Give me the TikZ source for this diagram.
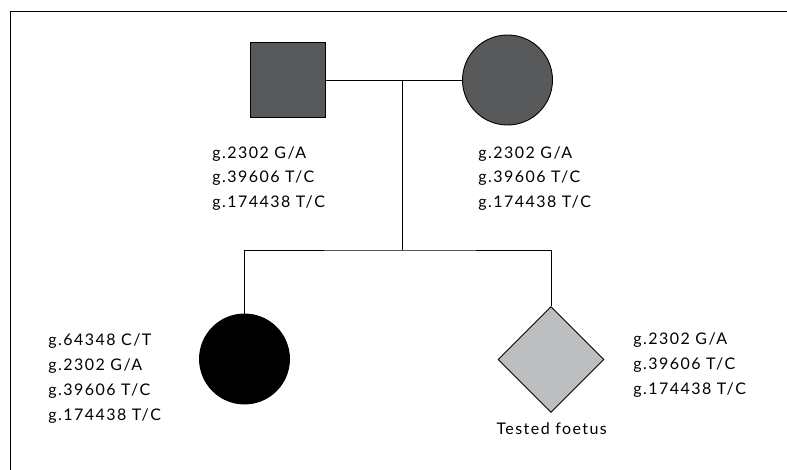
\documentclass[tikz,border=0pt]{standalone}
\usepackage{fontspec}
\setmainfont{Lato}[LetterSpace=9]
\usetikzlibrary{shapes.geometric}
\definecolor{parentgray}{HTML}{58595B}
\definecolor{foetusgray}{HTML}{BCBEC0}
\tikzset{every picture/.style={line width=0.9pt}}
\tikzset{pedigree/.style={draw, inner sep=0pt}}
\tikzset{male/.style={pedigree, rectangle, minimum size=75pt, fill=parentgray}}
\tikzset{female/.style={pedigree, circle, minimum size=90pt}}
\tikzset{unknownsex/.style={pedigree, diamond, aspect=1, minimum width=106pt,
    minimum height=106pt, fill=foetusgray}}
\tikzset{snplist/.style={anchor=west, align=left, inner sep=0pt,
    font=\fontsize{16}{24.8}\selectfont}}

\begin{document}
\begin{tikzpicture}[x=1pt,y=1pt]
		\useasboundingbox (0,0) rectangle (787,-470);
		% frame
		\draw (10,-470) -- (10,-11) -- (787,-11);
		% parents
		\node[male] (father) at (288,-80) {};
		\node[female, fill=parentgray] (mother) at (507.5,-80) {};
		\draw (father) -- (mother);
		\coordinate (mating) at (402.7,-80);
		\coordinate (sibship) at (402.7,-250);
		\draw (mating) -- (sibship);
		% children
		\node[female, fill=black] (daughter) at (244.5,-359) {};
		\node[unknownsex] (foetus) at (551,-359.5) {};
		\draw (daughter.north) |- (sibship) -| (foetus.north);
		% genotypes
		\node[snplist] (fatherlbl) at (212,-178.5)
		{g.2302 G/A\\g.39606 T/C\\g.174438 T/C};
		\node[snplist] (motherlbl) at (478,-178.5)
		{g.2302 G/A\\g.39606 T/C\\g.174438 T/C};
		\node[snplist] (daughterlbl) at (48,-378.7)
		{g.64348 C/T\\g.2302 G/A\\g.39606 T/C\\g.174438 T/C};
		\node[snplist] (foetuslbl) at (633,-365)
		{g.2302 G/A\\g.39606 T/C\\g.174438 T/C};
		\node[font=\fontsize{16}{18}\selectfont, inner sep=0pt] (foetusname)
		at (551.7,-429) {Tested foetus};
	\end{tikzpicture}
\end{document}
